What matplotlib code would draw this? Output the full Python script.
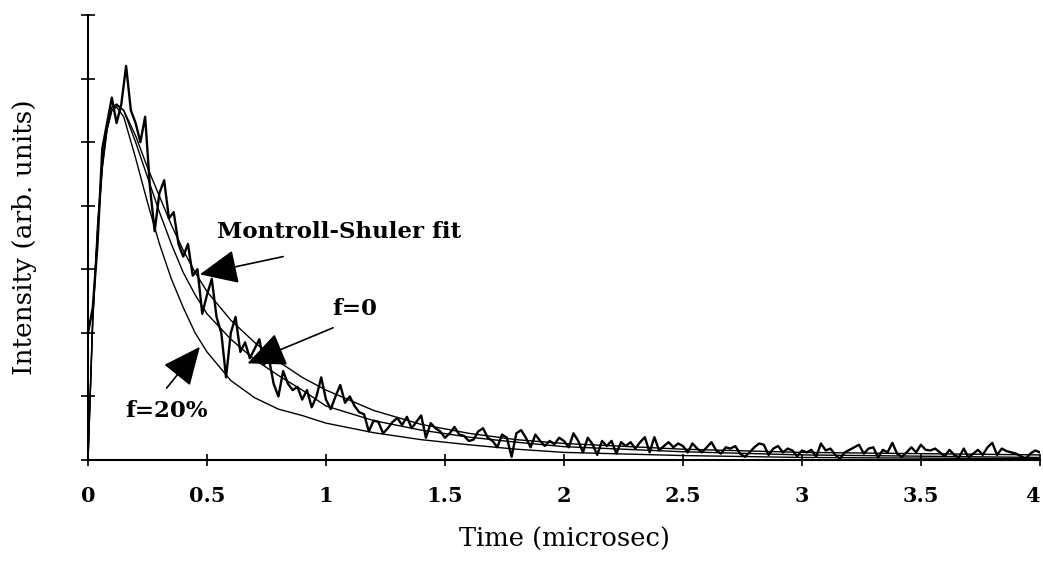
import numpy as np
import matplotlib
matplotlib.use("Agg")
import matplotlib.pyplot as plt

# Smooth fit curves (time in microsec, intensity in arb. units)
fit_t = [0.0, 0.02, 0.04, 0.06, 0.08, 0.1, 0.12, 0.15, 0.2, 0.25, 0.3, 0.35, 0.4, 0.45,
         0.5, 0.6, 0.7, 0.8, 0.9, 1.0, 1.2, 1.4, 1.6, 1.8, 2.0, 2.5, 3.0, 3.5, 4.0]
fit_f20 = [0.0, 2.2, 3.6, 4.6, 5.2, 5.5, 5.55, 5.4, 4.75, 4.05, 3.4, 2.85, 2.4, 2.0,
           1.7, 1.25, 0.98, 0.8, 0.7, 0.58, 0.43, 0.32, 0.24, 0.17, 0.12, 0.07, 0.04, 0.03, 0.02]
fit_f0 = [0.0, 2.2, 3.6, 4.6, 5.2, 5.5, 5.58, 5.5, 5.0, 4.45, 3.9, 3.4, 2.95, 2.6,
          2.3, 1.9, 1.58, 1.33, 1.1, 0.85, 0.62, 0.47, 0.36, 0.28, 0.21, 0.13, 0.08, 0.06, 0.04]
fit_ms = [0.0, 2.3, 3.7, 4.7, 5.3, 5.55, 5.6, 5.5, 5.1, 4.6, 4.15, 3.7, 3.3, 2.95,
          2.65, 2.2, 1.85, 1.55, 1.3, 1.1, 0.78, 0.56, 0.42, 0.32, 0.26, 0.17, 0.12, 0.1, 0.08]

# Measured decay, one value every 0.02 microsec from 0 to 4
data = [2.0, 2.4, 3.4, 4.9, 5.3, 5.7, 5.3, 5.6, 6.2, 5.5,
        5.3, 5.0, 5.4, 4.3, 3.6, 4.2, 4.4, 3.8, 3.9, 3.4,
        3.2, 3.4, 2.9, 3.0, 2.3, 2.6, 2.85, 2.25, 2.0, 1.3,
        2.0, 2.25, 1.7, 1.85, 1.6, 1.75, 1.9, 1.5, 1.6, 1.2,
        1.0, 1.4, 1.2, 1.1, 1.15, 0.95, 1.1, 0.83, 1.0, 1.3,
        0.95, 0.8, 1.0, 1.18, 0.9, 1.0, 0.85, 0.75, 0.72, 0.45,
        0.62, 0.6, 0.42, 0.5, 0.6, 0.66, 0.55, 0.68, 0.5, 0.6,
        0.7, 0.35, 0.58, 0.5, 0.45, 0.35, 0.42, 0.52, 0.4, 0.38,
        0.3, 0.32, 0.45, 0.5, 0.35, 0.3, 0.2, 0.4, 0.35, 0.05,
        0.42, 0.47, 0.35, 0.2, 0.4, 0.3, 0.22, 0.3, 0.25, 0.35,
        0.3, 0.2, 0.42, 0.3, 0.12, 0.35, 0.25, 0.08, 0.3, 0.22,
        0.3, 0.1, 0.28, 0.22, 0.28, 0.18, 0.28, 0.36, 0.12, 0.36,
        0.15, 0.22, 0.28, 0.2, 0.26, 0.22, 0.12, 0.26, 0.18, 0.12,
        0.2, 0.28, 0.15, 0.1, 0.2, 0.18, 0.22, 0.1, 0.05, 0.12,
        0.2, 0.26, 0.24, 0.08, 0.18, 0.22, 0.12, 0.18, 0.15, 0.06,
        0.15, 0.12, 0.16, 0.05, 0.26, 0.15, 0.18, 0.08, 0.02, 0.12,
        0.16, 0.2, 0.24, 0.1, 0.18, 0.2, 0.04, 0.16, 0.12, 0.27,
        0.1, 0.05, 0.12, 0.2, 0.12, 0.24, 0.16, 0.15, 0.18, 0.12,
        0.06, 0.16, 0.08, 0.04, 0.18, 0.04, 0.1, 0.16, 0.08, 0.2,
        0.27, 0.08, 0.18, 0.14, 0.12, 0.1, 0.06, 0.02, 0.1, 0.15,
        0.12]
data_t = np.arange(len(data)) * 0.02

xticks = [0, 0.5, 1, 1.5, 2, 2.5, 3, 3.5, 4]
xticklabels = ['0', '0.5', '1', '1.5', '2', '2.5', '3', '3.5', '4']

plt.rcParams['font.family'] = ['DejaVu Serif']

fig = plt.figure(figsize=(10.43, 5.67), dpi=100)
ax = fig.add_axes([0.0844, 0.1887, 0.9126, 0.7848])

ax.plot(fit_t, fit_ms, color='black', linewidth=1.0)
ax.plot(fit_t, fit_f0, color='black', linewidth=1.0)
ax.plot(fit_t, fit_f20, color='black', linewidth=1.0)
ax.plot(data_t, data, color='black', linewidth=1.7)

ax.set_xlim(0, 4)
ax.set_ylim(0, 7)
ax.set_xticks(xticks)
ax.set_xticklabels(xticklabels, fontsize=15, fontweight='bold')
ax.get_xticklabels()[-1].set_ha('right')
ax.set_yticks(range(8))
ax.set_yticklabels([])
ax.tick_params(axis='x', direction='inout', length=8, width=1.2, pad=15)
ax.tick_params(axis='y', direction='inout', length=10, width=1.2)
for side in ['top', 'right']:
    ax.spines[side].set_visible(False)
for side in ['left', 'bottom']:
    ax.spines[side].set_linewidth(1.5)

ax.set_xlabel('Time (microsec)', fontsize=18.5, labelpad=15)
ax.set_ylabel('Intensity (arb. units)', fontsize=19, labelpad=28)

# Labels and arrows with filled heads pointing to the curves
arrow = dict(arrowstyle='-|>,head_length=1.0,head_width=0.45', color='black',
             lw=1.2, mutation_scale=24, shrinkA=0, shrinkB=0)
ax.text(0.54, 3.58, 'Montroll-Shuler fit', fontsize=16.5, fontweight='bold',
        ha='left', va='center')
ax.annotate('', xy=(0.47, 2.92), xytext=(0.82, 3.2), arrowprops=arrow)
ax.text(1.12, 2.37, 'f=0', fontsize=16.5, fontweight='bold', ha='center', va='center')
ax.annotate('', xy=(0.67, 1.52), xytext=(1.03, 2.08), arrowprops=arrow)
ax.text(0.33, 0.77, 'f=20%', fontsize=16.5, fontweight='bold', ha='center', va='center')
ax.annotate('', xy=(0.47, 1.78), xytext=(0.33, 1.13), arrowprops=arrow)

fig.savefig('out.png', dpi=100)
